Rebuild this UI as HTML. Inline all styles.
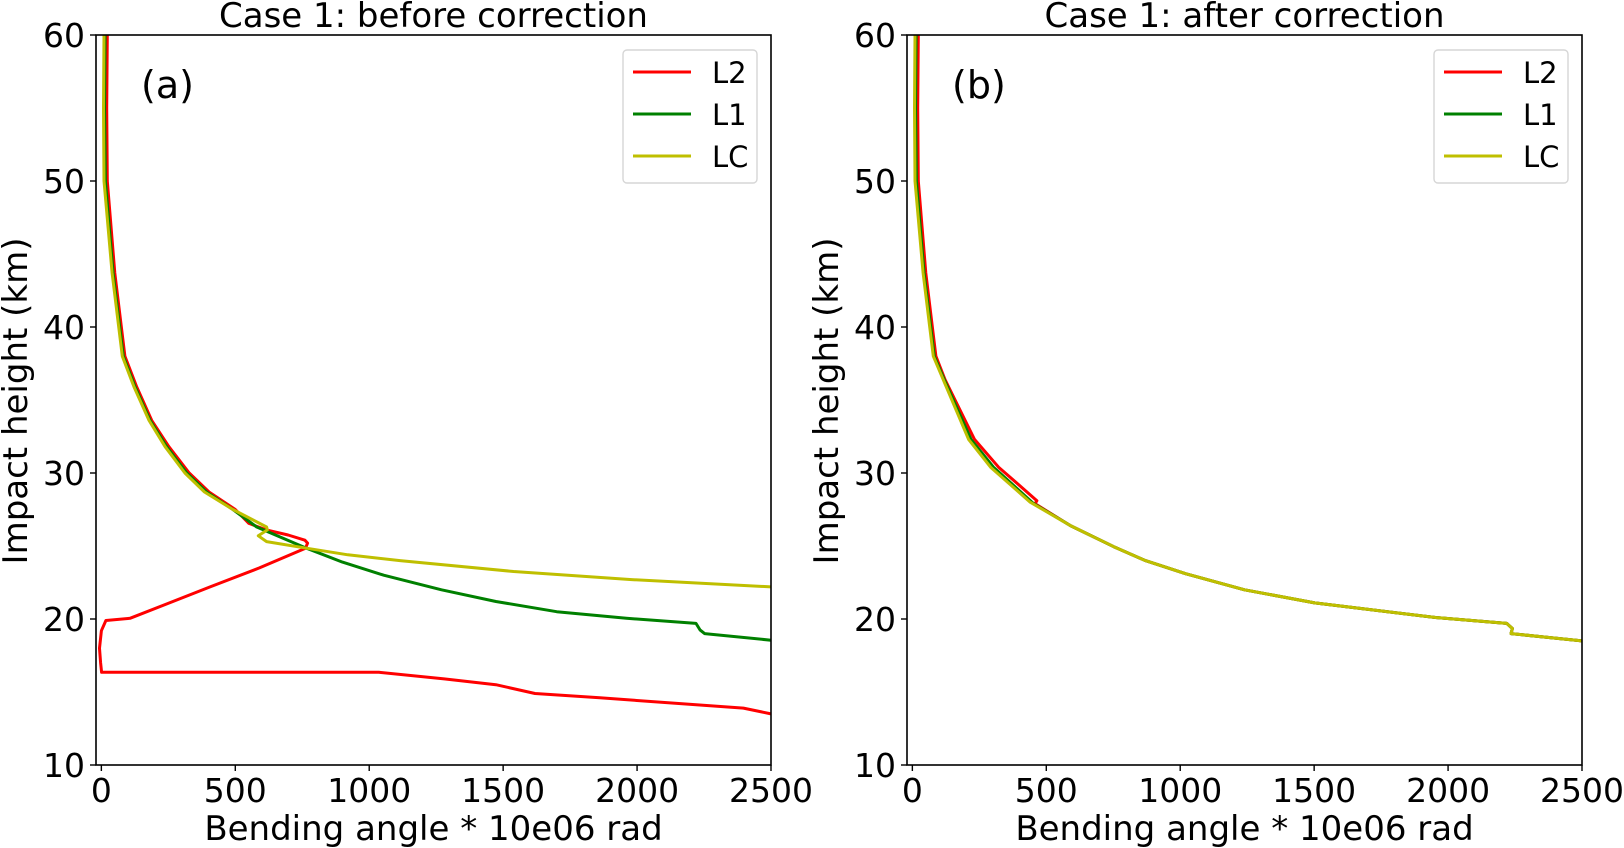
<!DOCTYPE html>
<html><head><meta charset="utf-8">
<style>
html,body{margin:0;padding:0;background:#fff;}
svg{display:block;font-family:"DejaVu Sans","Liberation Sans",sans-serif;}
</style></head>
<body>
<svg id="fig" width="1624" height="848" viewBox="0 0 1624 848" xmlns="http://www.w3.org/2000/svg"></svg>
<script>
// ---- data ----
const xTicks = [0, 500, 1000, 1500, 2000, 2500];
const yTicks = [10, 20, 30, 40, 50, 60];
const seriesNames = ["L2", "L1", "LC"];
const seriesColors = ["#ff0000", "#008000", "#bfbf00"];

// Panel (a) before correction
const aL2_h = [60,55,50,43.7,38,35.9,33.6,31.8,30,28.7,27.5,26.55,26.1,25.75,25.4,25.2,24.85,23.5,22.2,21,20.05,19.9,19.2,18,17,16.35,16.35,15.9,15.5,14.9,14.6,13.9,13.5];
const aL2_v = [22,20,22,50,88,132,188,252,328,402,500,551,616,697,760,770,762,590,406,240,107,17,0,-7,-3,1,1036,1280,1473,1619,1861,2397,2500];
const aL1_h = [60,55,50,43.7,38,35.9,33.6,31.8,30,28.7,27.5,26.3,24.85,23.9,23.0,22.0,21.2,20.5,20.05,19.7,19.25,19.0,18.55];
const aL1_v = [14,12,15,44,82,126,182,244,319,393,491,580,766,900,1054,1270,1473,1700,1960,2220,2235,2252,2500];
const aLC_h = [60,55,50,43.7,38,35.9,33.6,31.8,30,28.7,27.5,26.3,26.1,25.7,25.3,24.85,24.4,24.0,23.25,22.7,22.2];
const aLC_v = [10,8,10,40,78,122,178,238,312,385,491,617,620,586,617,766,920,1115,1539,1980,2500];

// Panel (b) after correction
const bL2_h = [60,55,50,43.7,38,36.4,32.3,30.4,28.1,27.9,26.4,24.95,24.0,23.1,22.0,21.1,20.1,19.7,19.35,19.0,18.5];
const bL2_v = [22,20,22,50,88,122,232,322,465,458,590,752,870,1020,1240,1502,1953,2219,2240,2235,2500];
const bL1_h = [60,55,50,43.7,38,36.4,32.3,30.4,27.9,26.4,24.95,24.0,23.1,22.0,21.1,20.1,19.7,19.35,19.0,18.5];
const bL1_v = [14,12,15,44,82,119,219,303,453,590,752,870,1020,1240,1502,1953,2219,2240,2235,2500];
const bLC_h = [60,55,50,43.7,38,36.4,32.3,30.4,28.0,26.4,24.95,24.0,23.1,22.0,21.1,20.1,19.7,19.35,19.0,18.5];
const bLC_v = [10,8,10,40,78,115,210,292,440,590,752,870,1020,1240,1502,1953,2219,2240,2235,2500];

const NS = "http://www.w3.org/2000/svg";
const svg = document.getElementById("fig");
function mk(tag, attrs, parent){
  const e = document.createElementNS(NS, tag);
  for (const k in attrs) e.setAttribute(k, attrs[k]);
  (parent||svg).appendChild(e);
  return e;
}
const X0 = -20, X1 = 2500, Y0 = 10, Y1 = 60;
function panel(left, title, letter, data, key){
  const top = 35, w = 675, h = 730;
  const sx = v => left + (v - X0) / (X1 - X0) * w;
  const sy = v => top + (Y1 - v) / (Y1 - Y0) * h;
  const g = mk("g", {});
  
  
  data.forEach((s, i) => {
    const pts = s.v.map((v, j) => sx(v).toFixed(1) + "," + sy(s.h[j]).toFixed(1)).join(" ");
    const pl = mk("polyline", {points: pts, fill: "none", stroke: seriesColors[i], "stroke-width": 3, "stroke-linejoin": "round"}, g);
    
    
  });
  const fr = mk("rect", {x: left, y: top, width: w, height: h, fill: "none", stroke: "#000", "stroke-width": 1.6}, g);
  
  
  xTicks.forEach(t => {
    const x = sx(t);
    mk("line", {x1: x, y1: top + h, x2: x, y2: top + h + 6, stroke: "#000", "stroke-width": 1.4}, g);
    const tx = mk("text", {x: x, y: top + h + 37, "font-size": 33, "text-anchor": "middle"}, g);
    tx.textContent = t;
    
    
  });
  yTicks.forEach(t => {
    const y = sy(t);
    mk("line", {x1: left - 6, y1: y, x2: left, y2: y, stroke: "#000", "stroke-width": 1.4}, g);
    const ty = mk("text", {x: left - 11, y: y + 12, "font-size": 33, "text-anchor": "end"}, g);
    ty.textContent = t;
    
    
  });
  const tt = mk("text", {x: left + w / 2, y: 27, "font-size": 34, "text-anchor": "middle"}, g);
  tt.textContent = title;
  
  
  const xl = mk("text", {x: left + w / 2, y: 840, "font-size": 34, "text-anchor": "middle"}, g);
  xl.textContent = "Bending angle * 10e06 rad";
  
  
  const yl = mk("text", {x: 0, y: 0, "font-size": 34, "text-anchor": "middle", transform: "translate(" + (left - 69) + "," + (top + 366) + ") rotate(-90)"}, g);
  yl.textContent = "Impact height (km)";
  
  
  const lt = mk("text", {x: left + 45, y: 98, "font-size": 38}, g);
  lt.textContent = letter;
  
  
  const lg = mk("g", {}, g);
  
  
  const lx = left + 527;
  mk("rect", {x: lx, y: 50, width: 134, height: 133, rx: 4, fill: "#fff", stroke: "#d6d6d6", "stroke-width": 1.4}, lg);
  seriesNames.forEach((n, i) => {
    const yy = 72 + i * 42;
    const e = mk("g", {}, lg);
    
    
    mk("line", {x1: lx + 10, y1: yy, x2: lx + 68, y2: yy, stroke: seriesColors[i], "stroke-width": 3}, e);
    const t = mk("text", {x: lx + 89, y: yy + 11, "font-size": 29}, e);
    t.textContent = n;
  });
}
panel(96, "Case 1: before correction", "(a)", [
  {h: aL2_h, v: aL2_v}, {h: aL1_h, v: aL1_v}, {h: aLC_h, v: aLC_v}], "a");
panel(907, "Case 1: after correction", "(b)", [
  {h: bL2_h, v: bL2_v}, {h: bL1_h, v: bL1_v}, {h: bLC_h, v: bLC_v}], "b");
</script>
</body></html>
